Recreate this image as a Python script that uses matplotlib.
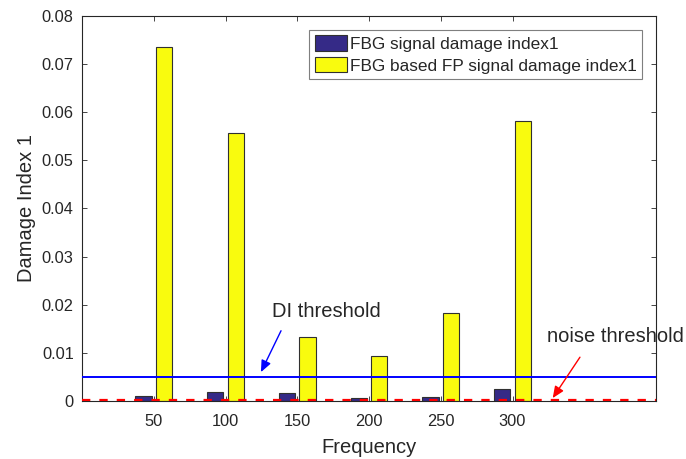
import matplotlib
matplotlib.use("Agg")
import matplotlib.pyplot as plt
import numpy as np

plt.rcParams['font.family'] = ['Liberation Sans', 'DejaVu Sans']
plt.rcParams['lines.scale_dashes'] = False

frequencies = [50, 100, 150, 200, 250, 300]
fbg_di = [0.0011, 0.0018, 0.0016, 0.0007, 0.0009, 0.0024]
fbg_fp_di = [0.0736, 0.0556, 0.0134, 0.0094, 0.0183, 0.0581]
di_threshold = 0.005
noise_threshold = 0.0002
series_labels = ['FBG signal damage index1', 'FBG based FP signal damage index1']
yticks = [0, 0.01, 0.02, 0.03, 0.04, 0.05, 0.06, 0.07, 0.08]
ytick_labels = ['0', '0.01', '0.02', '0.03', '0.04', '0.05', '0.06', '0.07', '0.08']

W, H = 686, 459
fig = plt.figure(figsize=(W / 100, H / 100), dpi=100)
ax = fig.add_axes([82 / W, 1 - 401 / H, (656 - 82) / W, (401 - 16) / H])

x = np.array(frequencies, dtype=float)
spacing = 50.0
group_w = spacing * 2 / 3.5
bar_w = group_w / 2 * 0.8
off = group_w / 4

c_text = '#262626'
ax.bar(x - off, fbg_di, width=bar_w, color='#352A87', edgecolor='#303030',
       linewidth=0.8, label=series_labels[0], zorder=2)
ax.bar(x + off, fbg_fp_di, width=bar_w, color='#F9FB0E', edgecolor='#303030',
       linewidth=0.8, label=series_labels[1], zorder=2)

ax.axhline(di_threshold, color='#0000FF', lw=1.4, zorder=3)
ax.axhline(noise_threshold, color='#FF0000', lw=1.6, dashes=(6, 6.5), zorder=3)

ax.set_xlim(0, 400)
ax.set_ylim(0, 0.08)
ax.set_xticks(frequencies)
ax.set_xticklabels([str(f) for f in frequencies])
ax.set_yticks(yticks)
ax.set_yticklabels(ytick_labels)

for s in ax.spines.values():
    s.set_color(c_text)
    s.set_linewidth(0.8)
ax.tick_params(direction='in', length=3.6, width=0.6, colors=c_text,
               labelsize=11.8, top=True, right=True, labelcolor=c_text)
ax.tick_params(axis='x', pad=9)
ax.tick_params(axis='y', pad=6)

ax.set_xlabel('Frequency', fontsize=14.5, color=c_text, labelpad=7)
ax.set_ylabel('Damage Index 1', fontsize=14.5, color=c_text, labelpad=4)

ax.annotate('', xy=(124.7, 0.0060), xytext=(138.7, 0.0146),
            arrowprops=dict(arrowstyle='-|>,head_length=0.7,head_width=0.3',
                            color='#0000FF', lw=1.0, shrinkA=0, shrinkB=0))
ax.text(132.4, 0.0185, 'DI threshold', fontsize=14.5, color=c_text,
        ha='left', va='center')
ax.annotate('', xy=(328, 0.0006), xytext=(347, 0.0091),
            arrowprops=dict(arrowstyle='-|>,head_length=0.7,head_width=0.3',
                            color='#FF0000', lw=1.0, shrinkA=0, shrinkB=0))
ax.text(324, 0.0133, 'noise threshold', fontsize=14.5, color=c_text,
        ha='left', va='center', clip_on=False)

leg = ax.legend(loc='upper right', bbox_to_anchor=((642 - 82) / 574, (401 - 30) / 385),
                borderaxespad=0, fontsize=12.4, handlelength=1.85, handleheight=1.0,
                handletextpad=0.2, labelspacing=0.3, borderpad=0.3,
                fancybox=False, framealpha=1, edgecolor='#7f7f7f')
leg.get_frame().set_linewidth(0.8)
for t in leg.get_texts():
    t.set_color(c_text)

fig.savefig('out.png', dpi=100)
